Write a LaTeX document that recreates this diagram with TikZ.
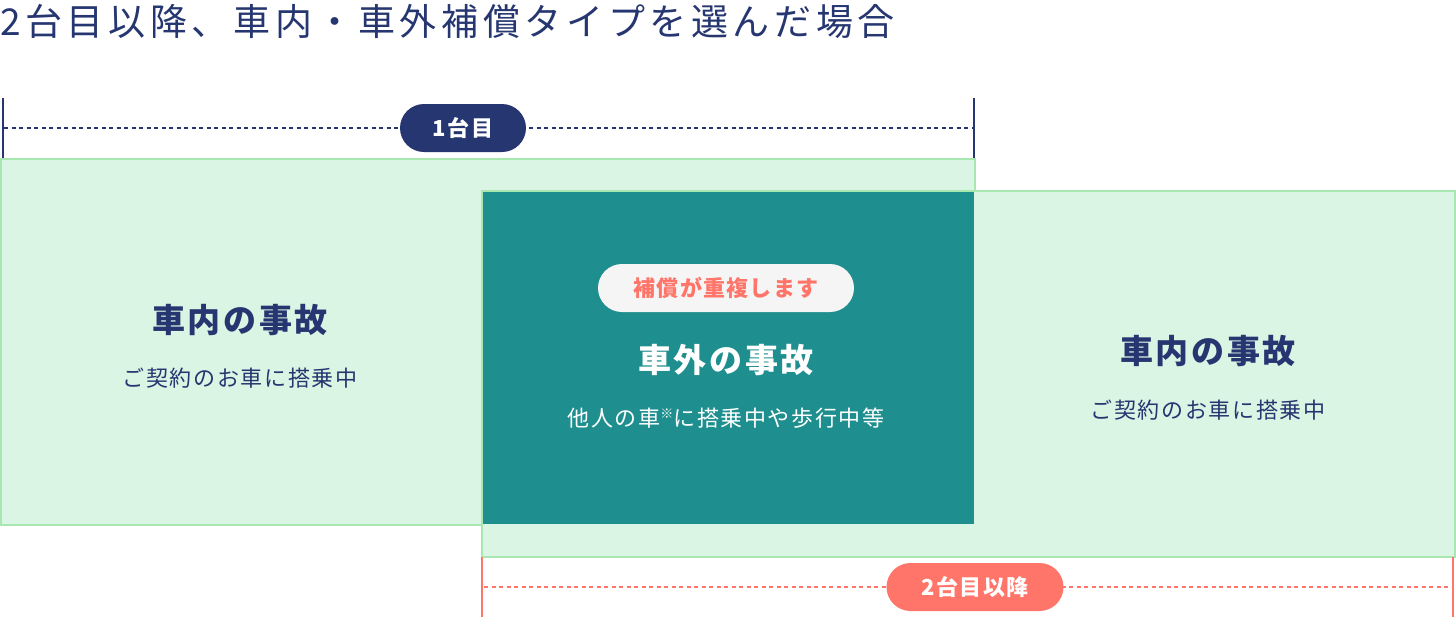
\documentclass[tikz,border=0pt]{standalone}
\usepackage{fontspec}
\setmainfont{Noto Sans CJK JP}
\newfontfamily\jptitle[LetterSpace=12.5]{Noto Sans CJK JP}
\newfontfamily\jphead[LetterSpace=8]{Noto Sans CJK JP}
\newfontfamily\jpsub[LetterSpace=7.5]{Noto Sans CJK JP}
\newfontfamily\jppill[LetterSpace=6]{Noto Sans CJK JP}
\definecolor{navy}{HTML}{263670}
\definecolor{lgreen}{HTML}{DBF5E4}
\definecolor{bgreen}{HTML}{A8E8B0}
\definecolor{tealc}{HTML}{1E8F8E}
\definecolor{coral}{HTML}{FF7569}
\definecolor{pillw}{HTML}{F5F5F5}
\tikzset{
  areabox/.style={fill=lgreen, draw=bgreen, line width=2pt},
  headtxt/.style={inner sep=0pt, font=\jphead\bfseries\fontsize{33}{38}\selectfont},
  subtxt/.style={inner sep=0pt, font=\jpsub\fontsize{22}{26}\selectfont},
  pill/.style={rounded corners=24pt, minimum height=48pt, inner sep=0pt,
    font=\jppill\bfseries\fontsize{22}{26}\selectfont},
  brk/.style={line width=2pt},
  dotln/.style={line width=1.6pt, dash pattern=on 4pt off 3.5pt},
}
\begin{document}
\begin{tikzpicture}[x=1pt,y=-1pt]
\useasboundingbox (0,0) rectangle (1456,622);
% title
\node[anchor=base west, inner sep=0pt, text=navy, font=\jptitle\fontsize{37}{42}\selectfont] (title) at (0,35) {2台目以降、車内・車外補償タイプを選んだ場合};
% areas
\draw[areabox] (1,159) rectangle (975,524.5);
\draw[areabox] (481.5,190.5) rectangle (1455,556.5);
\fill[tealc] (482.5,191.5) rectangle (974,523.5);
% top bracket
\coordinate (tl1) at (3,98); \coordinate (tl2) at (3,158);
\coordinate (tr1) at (973.5,98); \coordinate (tr2) at (973.5,158);
\coordinate (td1) at (4,128); \coordinate (td2) at (972,128);
\draw[brk, navy] (tl1) -- (tl2);
\draw[brk, navy] (tr1) -- (tr2);
\draw[dotln, navy] (td1) -- (td2);
\node[pill, fill=navy, text=white, minimum width=126pt] (p1) at (463,128) {1台目};
% bottom bracket
\coordinate (bl1) at (482,557); \coordinate (bl2) at (482,617);
\coordinate (br1) at (1453,557); \coordinate (br2) at (1453,617);
\coordinate (bd1) at (484,587); \coordinate (bd2) at (1451,587);
\draw[brk, coral] (bl1) -- (bl2);
\draw[brk, coral] (br1) -- (br2);
\draw[dotln, coral] (bd1) -- (bd2);
\node[pill, fill=coral, text=white, minimum width=177pt] (p2) at (975,587) {2台目以降};
% left texts
\node[headtxt, text=navy] (lh) at (240,320) {車内の事故};
\node[subtxt, text=navy] (ls) at (240,378) {ご契約のお車に搭乗中};
% right texts
\node[headtxt, text=navy] (rh) at (1208,351) {車内の事故};
\node[subtxt, text=navy] (rs) at (1208,410) {ご契約のお車に搭乗中};
% center texts
\node[pill, fill=pillw, text=coral, minimum width=256pt] (p3) at (726,288) {補償が重複します};
\node[headtxt, text=white] (ch) at (726,360) {車外の事故};
\node[subtxt, text=white] (cs) at (726,418) {他人の車\raisebox{0.35em}{\fontsize{13}{13}\selectfont ※}に搭乗中や歩行中等};
\end{tikzpicture}
\end{document}
